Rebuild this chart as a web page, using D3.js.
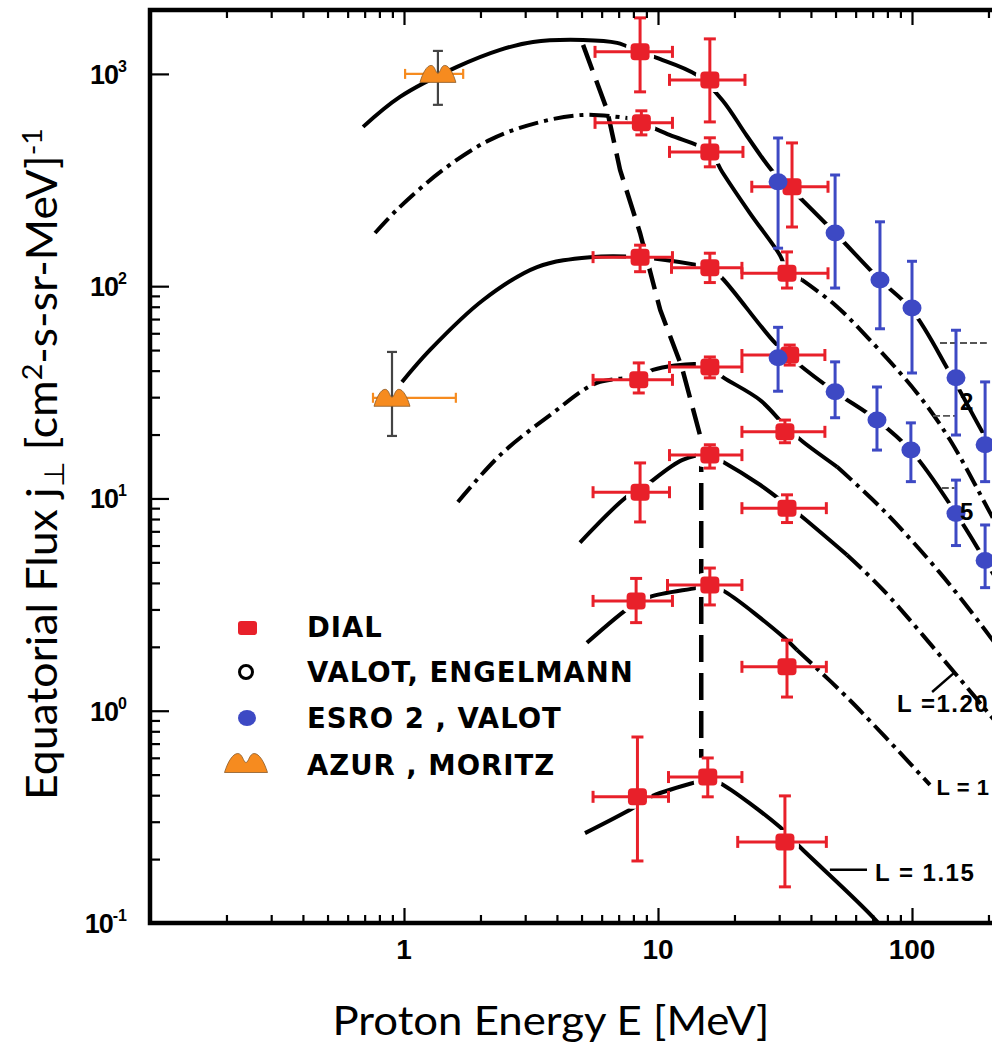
<!DOCTYPE html>
<html>
<head>
<meta charset="utf-8">
<title>Equatorial proton flux spectra</title>
<script src="https://cdn.jsdelivr.net/npm/d3@7/dist/d3.min.js"></script>
<style>
  html, body { margin: 0; padding: 0; background: #fff; }
  svg { display: block; }
</style>
</head>
<body>
<svg id="chart" width="992" height="1045"></svg>
<script>
// ---- Axis ticks ----
const xTickValues = [1, 10, 100];
const xTickLabels = ["1", "10", "100"];
const yTickValues = [0.1, 1, 10, 100, 1000];
const yTickExponents = ["-1", "0", "1", "2", "3"];

// ---- DIAL measurements: energy (MeV), flux, and error ranges ----
const dialEnergy     = [8.5, 16.0, 8.6, 16.0, 33.7, 8.5, 16.0, 32.2, 8.4, 16.0, 33.0, 31.6, 16.0, 8.5, 32.2, 16.0, 8.2, 32.2, 8.3, 15.7, 31.6];
const dialFlux       = [1270, 937, 588, 429, 294, 137, 122, 115, 36.2, 41.6, 47.4, 20.6, 16.0, 10.7, 9.0, 3.91, 3.29, 1.61, 0.393, 0.487, 0.241];
const dialFluxLow    = [823, 594, 516, 365, 190, 117, 104, 98, 31.4, 37.0, 42.5, 18.3, 13.9, 7.75, 7.7, 3.15, 2.6, 1.16, 0.196, 0.393, 0.148];
const dialFluxHigh   = [1836, 1462, 670, 500, 473, 156, 143, 145, 43.5, 46.4, 52.8, 23.4, 17.9, 14.7, 10.4, 4.7, 4.2, 2.15, 0.752, 0.599, 0.397];
const dialEnergyLow  = [5.65, 11.1, 5.65, 11.1, 23.4, 5.55, 11.3, 21.4, 5.55, 11.1, 21.4, 21.4, 11.1, 5.55, 21.4, 10.9, 5.55, 21.4, 5.55, 11.0, 20.6];
const dialEnergyHigh = [11.4, 22.0, 11.4, 21.6, 46.7, 11.4, 21.4, 46.7, 11.4, 21.4, 45.4, 45.4, 21.4, 11.1, 46.0, 21.4, 11.4, 46.0, 11.0, 21.4, 46.0];

// ---- ESRO 2 (Valot) measurements ----
const esroEnergy   = [29.7, 49.8, 74.8, 100, 149, 194, 29.7, 49.8, 72.8, 99, 149, 194];
const esroFlux     = [310, 178, 107, 79, 37, 17.9, 46, 31.8, 23.4, 16.9, 8.5, 5.1];
const esroFluxLow  = [151, 98, 63, 39, 19.9, 12, 32, 24, 16.9, 12, 6.0, 3.8];
const esroFluxHigh = [499, 334, 201, 131, 62, 35.4, 64, 44, 33.5, 22.7, 12.2, 7.5];

// ---- AZUR (Moritz) measurements ----
const azurEnergy     = [1.36, 0.897];
const azurFlux       = [1000, 29.8];
const azurFluxLow    = [715, 19.7];
const azurFluxHigh   = [1283, 49];
const azurEnergyLow  = [1.01, 0.755];
const azurEnergyHigh = [1.71, 1.60];

// ---- Model spectra [energy MeV, flux] ----
const curveA = [[0.690,563],[0.964,779],[1.617,1079],[2.39,1298],[3.22,1415],[5.07,1445],[6.9,1400],[8.5,1270],[9.9,1190],[14.2,989],[17.9,754],[22.4,510],[28.4,345],[33.7,284],[49.8,178],[74.8,107],[100,77],[141,39],[190,20.4],[222,14.9]];
const curveB = [[0.769,178],[0.938,229],[1.424,353],[2.18,489],[3.34,588],[5.07,641],[7.55,620],[8.6,588],[11.1,516],[16,429],[17.9,345],[23.0,221],[30.2,140],[32.2,119],[36.9,107],[49.8,81.6],[66.5,57.7],[104.6,31.4],[141,18.9],[203,8.55],[222,7.0]];
const curveC = [[0.982,35.4],[1.266,50.1],[2.05,86.1],[3.34,123],[5.40,137],[8.5,137],[14.2,126],[16,122],[17.9,109],[28.9,54],[35.3,43.5],[49.8,31.8],[72.8,23.4],[100,16.6],[149,8.5],[194,5.1],[222,3.9]];
const curveD = [[1.63,9.63],[2.39,16.0],[3.76,24.7],[5.75,35.0],[8.34,37.0],[9.55,40.3],[14.2,43.0],[16,41.6],[18.0,37.3],[25.2,29.1],[32.2,21.5],[37.2,18.5],[50.7,14.1],[76.9,8.83],[128.9,4.46],[190,2.48],[222,1.93]];
const curveE = [[4.93,6.2],[7.55,10.2],[8.5,11.0],[12.5,15.2],[16,16.0],[18.0,14.9],[25.2,11.6],[32.2,9.32],[36.2,8.36],[55.5,5.42],[76.9,3.71],[150,1.47],[222,0.838]];
const curveF = [[5.25,2.09],[7.97,3.15],[9.30,3.44],[14.2,3.79],[16,3.91],[18.4,3.63],[31.1,2.23],[35.3,1.93],[57.0,1.12],[117.7,0.447]];
const curveG = [[5.16,0.265],[7.97,0.348],[9.30,0.392],[14.2,0.462],[15.7,0.477],[17.5,0.457],[30.2,0.283],[36.2,0.228],[74.8,0.0978],[80,0.085]];
// locus of spectral maxima
const ridge  = [[5.07,1370],[6.30,677],[7.09,353],[8.50,178],[10.2,77.3],[12.4,41.7],[14.8,18.9],[14.8,0.6]];

// ---- Text ----
const legendLabels = ["DIAL", "VALOT, ENGELMANN", "ESRO 2 , VALOT", "AZUR , MORITZ"];
const curveLabels = ["L = 1.15", "L =1.20", "L = 1", "2", "5"];
const curveLabelAt = [[71.5,0.158],[87.3,0.987],[125,0.401],[154.5,26.1],[154.5,7.92]];
const curveLabelSize = [24, 24, 22, 24, 24];
const leaderLines = [[[47.5,0.178],[66.5,0.178]], [[120,1.226],[147.6,1.52]], [[128.9,54],[197,54]], [[121,24.5],[150,24.5]], [[131,11.2],[147,11.2]]];

// ---------------------------------------------------------------
const svg = d3.select("#chart");
const x = d3.scaleLog().domain([0.1, 1000]).range([150, 1166]);
const y = d3.scaleLog().domain([0.1, 2000]).range([923, 10]);
const [xL, xR] = x.range();
const [yB, yT] = y.range();

const RED = "#e8202a", BLUE = "#3d49c4", ORANGE = "#f68b1f";
const tickFont = "'Liberation Sans', Arial, sans-serif";
const legendFont = "'DejaVu Sans', Verdana, sans-serif";
const titleFont = "Lato, 'Open Sans', sans-serif";

svg.append("defs").append("clipPath").attr("id", "plotArea")
  .append("rect").attr("x", xL).attr("y", yT).attr("width", xR - xL).attr("height", yB - yT);
const plot = svg.append("g").attr("clip-path", "url(#plotArea)");

// ---- Axes: frame plus inward ticks ----
const minorX = d3.range(-1, 3).flatMap(p => d3.range(2, 10).map(m => m * Math.pow(10, p)));
const majorX = [0.1, 1, 10, 100, 1000];
const minorY = d3.range(-1, 2).flatMap(p => d3.range(2, 10).map(m => m * Math.pow(10, p)));

function styleAxis(g) {
  g.select(".domain").remove();
  g.selectAll(".tick line").attr("stroke", "#000").attr("stroke-width", 2.2);
  g.selectAll(".tick text").remove();
}
svg.append("g").attr("transform", `translate(0,${yB})`)
  .call(d3.axisBottom(x).tickValues(minorX).tickSize(-8)).call(styleAxis);
svg.append("g").attr("transform", `translate(0,${yB})`)
  .call(d3.axisBottom(x).tickValues(majorX).tickSize(-15)).call(styleAxis);
svg.append("g").attr("transform", `translate(0,${yT})`)
  .call(d3.axisTop(x).tickValues(minorX).tickSize(-8)).call(styleAxis);
svg.append("g").attr("transform", `translate(0,${yT})`)
  .call(d3.axisTop(x).tickValues(majorX).tickSize(-15)).call(styleAxis);
svg.append("g").attr("transform", `translate(${xL},0)`)
  .call(d3.axisLeft(y).tickValues(minorY).tickSize(-10)).call(styleAxis);
svg.append("g").attr("transform", `translate(${xL},0)`)
  .call(d3.axisLeft(y).tickValues(yTickValues).tickSize(-19)).call(styleAxis);

svg.append("rect").attr("x", xL).attr("y", yT).attr("width", xR - xL).attr("height", yB - yT)
  .attr("fill", "none").attr("stroke", "#000").attr("stroke-width", 4.5);

// tick labels
svg.selectAll(".xlab").data(xTickValues).join("text")
  .attr("x", d => x(d)).attr("y", 959).attr("text-anchor", "middle")
  .attr("font-family", tickFont).attr("font-weight", "bold").attr("font-size", 28)
  .text((d, i) => xTickLabels[i]);

yTickValues.forEach((v, i) => {
  const t = svg.append("text").attr("x", 127).attr("y", y(v) + 10).attr("text-anchor", "end")
    .attr("font-family", tickFont).attr("font-weight", "bold").attr("font-size", 27)
    .attr("letter-spacing", -1);
  t.append("tspan").text("10");
  t.append("tspan").attr("dy", -12).attr("font-size", 16).attr("letter-spacing", 0).text(yTickExponents[i]);
});

// axis titles
svg.append("text").attr("x", 551).attr("y", 1035).attr("text-anchor", "middle")
  .attr("font-family", titleFont).attr("font-size", 40)
  .attr("textLength", 437).attr("lengthAdjust", "spacingAndGlyphs")
  .text("Proton Energy E [MeV]");

const yt = svg.append("text").attr("transform", "translate(57,464) rotate(-90)")
  .attr("text-anchor", "middle").attr("font-family", titleFont).attr("font-size", 42)
  .attr("textLength", 672).attr("lengthAdjust", "spacingAndGlyphs");
yt.append("tspan").text("Equatorial Flux j");
yt.append("tspan").attr("font-size", 28).attr("dy", 7).text("\u22A5");
yt.append("tspan").attr("dy", -7).text(" [cm");
yt.append("tspan").attr("font-size", 27).attr("dy", -15).text("2");
yt.append("tspan").attr("dy", 15).text("-s-sr-MeV]");
yt.append("tspan").attr("font-size", 27).attr("dy", -15).text("-1");

// ---- Model curves ----
const line = d3.line().x(d => x(d[0])).y(d => y(d[1])).curve(d3.curveCatmullRom.alpha(0.5));
const DASHDOT = "20,6,4,6";
const curveStyles = [
  { pts: curveA, dashBelow: 0,    dashAbove: Infinity },
  { pts: curveB, dashBelow: 7.55, dashAbove: 36.9 },
  { pts: curveC, dashBelow: 0,    dashAbove: Infinity },
  { pts: curveD, dashBelow: 8.34, dashAbove: 50.7 },
  { pts: curveE, dashBelow: 0,    dashAbove: 55.5 },
  { pts: curveF, dashBelow: 0,    dashAbove: 35.3 },
  { pts: curveG, dashBelow: 0,    dashAbove: Infinity }
];
curveStyles.forEach(c => {
  const left = c.pts.filter(p => p[0] <= c.dashBelow);
  const mid = c.pts.filter(p => p[0] >= c.dashBelow && p[0] <= c.dashAbove);
  const right = c.pts.filter(p => p[0] >= c.dashAbove);
  [[left, true], [mid, false], [right, true]].forEach(([pts, dashed]) => {
    if (pts.length < 2) return;
    plot.append("path").attr("d", line(pts)).attr("fill", "none")
      .attr("stroke", "#000").attr("stroke-width", 4)
      .attr("stroke-dasharray", dashed ? DASHDOT : null);
  });
});

plot.append("path").attr("d", d3.line().x(d => x(d[0])).y(d => y(d[1]))(ridge))
  .attr("fill", "none").attr("stroke", "#000").attr("stroke-width", 4.5)
  .attr("stroke-dasharray", "27,11");

// leader lines and curve labels
leaderLines.forEach((seg, i) => {
  plot.append("line")
    .attr("x1", x(seg[0][0])).attr("y1", y(seg[0][1]))
    .attr("x2", x(seg[1][0])).attr("y2", y(seg[1][1]))
    .attr("stroke", i < 2 ? "#000" : "#555").attr("stroke-width", i < 2 ? 2.5 : 1.8)
    .attr("stroke-dasharray", i < 2 ? null : "7,3");
});
curveLabels.forEach((txt, i) => {
  svg.append("text").attr("x", x(curveLabelAt[i][0])).attr("y", y(curveLabelAt[i][1]))
    .attr("font-family", tickFont).attr("font-weight", "bold").attr("font-size", curveLabelSize[i])
    .attr("letter-spacing", i === 2 ? 0.5 : 1.5).text(txt);
});

// ---- Error bars ----
function errorBars(g, n, ex, ey, eLo, eHi, fLo, fHi, colH, colV, capH, capV, width) {
  for (let i = 0; i < n; i++) {
    const cx = x(ex[i]), cy = y(ey[i]);
    if (fLo) {
      const y1 = y(fHi[i]), y2 = y(fLo[i]);
      g.append("line").attr("x1", cx).attr("x2", cx).attr("y1", y1).attr("y2", y2)
        .attr("stroke", colV).attr("stroke-width", width);
      [y1, y2].forEach(yy => g.append("line").attr("x1", cx - capV).attr("x2", cx + capV)
        .attr("y1", yy).attr("y2", yy).attr("stroke", colV).attr("stroke-width", width));
    }
    if (eLo) {
      const x1 = x(eLo[i]), x2 = x(eHi[i]);
      g.append("line").attr("x1", x1).attr("x2", x2).attr("y1", cy).attr("y2", cy)
        .attr("stroke", colH).attr("stroke-width", width);
      [x1, x2].forEach(xx => g.append("line").attr("x1", xx).attr("x2", xx)
        .attr("y1", cy - capH).attr("y2", cy + capH).attr("stroke", colH).attr("stroke-width", width));
    }
  }
}

// white halos so the curves break around each symbol
const halo = plot.append("g").attr("fill", "#fff");
halo.selectAll("rect").data(dialEnergy).join("rect")
  .attr("x", (d, i) => x(d) - 14).attr("y", (d, i) => y(dialFlux[i]) - 12)
  .attr("width", 28).attr("height", 24).attr("rx", 7);
halo.selectAll("ellipse").data(esroEnergy).join("ellipse")
  .attr("cx", d => x(d)).attr("cy", (d, i) => y(esroFlux[i])).attr("rx", 14).attr("ry", 12);

const bars = plot.append("g").attr("stroke-linecap", "butt");
errorBars(bars, azurEnergy.length, azurEnergy, azurFlux, azurEnergyLow, azurEnergyHigh,
  azurFluxLow, azurFluxHigh, ORANGE, "#444", 5, 5, 2.2);
errorBars(bars, dialEnergy.length, dialEnergy, dialFlux, dialEnergyLow, dialEnergyHigh,
  dialFluxLow, dialFluxHigh, RED, RED, 6, 6, 3);
errorBars(bars, esroEnergy.length, esroEnergy, esroFlux, null, null,
  esroFluxLow, esroFluxHigh, BLUE, BLUE, 0, 5, 3);

// ---- Symbols ----
function mountain(w, h) {
  const a = w / 2, b = h / 2;
  return `M${-a},${b} C${-a * 0.85},${-b * 0.1} ${-a * 0.62},${-b} ${-a * 0.38},${-b} ` +
         `C${-a * 0.16},${-b} ${-a * 0.12},${-b * 0.05} 0,${-b * 0.05} ` +
         `C${a * 0.12},${-b * 0.05} ${a * 0.16},${-b} ${a * 0.38},${-b} ` +
         `C${a * 0.62},${-b} ${a * 0.85},${-b * 0.1} ${a},${b} Z`;
}

const sym = plot.append("g");
sym.selectAll(".dial").data(dialEnergy).join("rect").attr("class", "dial")
  .attr("x", d => x(d) - 9.5).attr("y", (d, i) => y(dialFlux[i]) - 8.5)
  .attr("width", 19).attr("height", 17).attr("rx", 4).attr("fill", RED);
sym.selectAll(".esro").data(esroEnergy).join("ellipse").attr("class", "esro")
  .attr("cx", d => x(d)).attr("cy", (d, i) => y(esroFlux[i]))
  .attr("rx", 9.5).attr("ry", 8.5).attr("fill", BLUE);
sym.selectAll(".azur").data(azurEnergy).join("path").attr("class", "azur")
  .attr("transform", (d, i) => `translate(${x(d)},${y(azurFlux[i])})`)
  .attr("d", mountain(36, 17)).attr("fill", ORANGE).attr("stroke", "#8a5a2a").attr("stroke-width", 0.8);

// ---- Legend ----
const legendY = [637, 682, 728, 775];
const lg = svg.append("g");
lg.append("rect").attr("x", 238).attr("y", 621).attr("width", 19).attr("height", 14).attr("rx", 3).attr("fill", RED);
lg.append("circle").attr("cx", 246).attr("cy", 672).attr("r", 6.5).attr("fill", "none").attr("stroke", "#000").attr("stroke-width", 3);
lg.append("ellipse").attr("cx", 247).attr("cy", 718).attr("rx", 9).attr("ry", 8).attr("fill", BLUE);
lg.append("path").attr("transform", "translate(246,763)").attr("d", mountain(43, 19))
  .attr("fill", ORANGE).attr("stroke", "#8a5a2a").attr("stroke-width", 0.8);
lg.selectAll(".lt").data(legendLabels).join("text").attr("class", "lt")
  .attr("x", 307).attr("y", (d, i) => legendY[i])
  .attr("font-family", legendFont).attr("font-weight", "bold").attr("font-size", 27.5)
  .attr("letter-spacing", 1)
  .text(d => d);
</script>
</body>
</html>
